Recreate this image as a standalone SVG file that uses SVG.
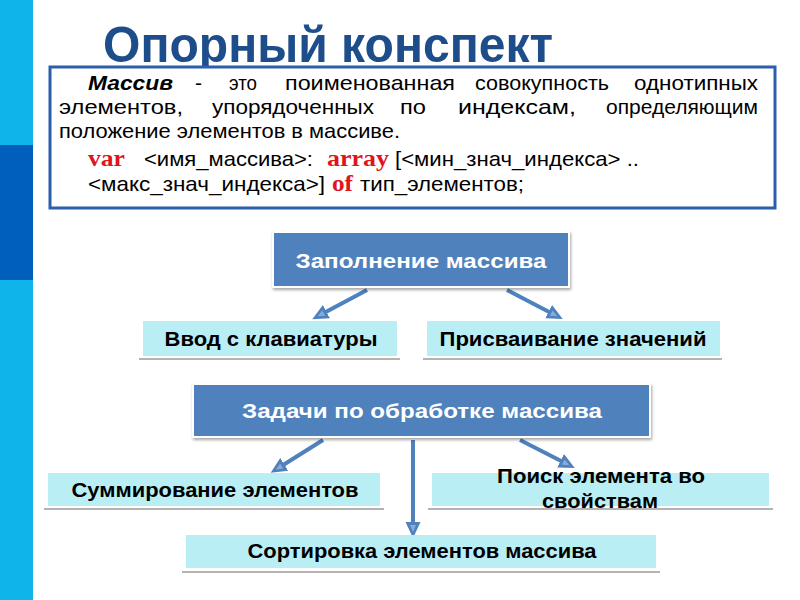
<svg xmlns="http://www.w3.org/2000/svg" width="800" height="600" viewBox="0 0 800 600">
<defs>
<marker id="ah" markerUnits="userSpaceOnUse" markerWidth="18" markerHeight="18" refX="5" refY="9" orient="auto">
<path d="M0,1.5 L16,9 L0,16.5 z" fill="#4F81BD"/>
<path d="M3,6 L10,9 L3,12 z" fill="#86ABD8"/>
</marker>
<filter id="sh" x="-5%" y="-10%" width="110%" height="130%">
<feDropShadow dx="1" dy="2" stdDeviation="1.5" flood-color="#000" flood-opacity="0.35"/>
</filter>
</defs>
<style>
.body{font-family:"Liberation Sans",Arial,sans-serif;font-size:21px;fill:#000}
.kw{font-family:"Liberation Serif","Times New Roman",serif;font-size:24px;font-weight:bold;fill:#E0141B}
.blue{fill:#4F81BD;stroke:#FFFFFF;stroke-width:2}
.wt{font-family:"Liberation Sans",Arial,sans-serif;font-size:20px;font-weight:bold;fill:#FFFFFF;text-anchor:middle}
.cy{fill:#B9EEF4}
.ul{stroke:#9A9A9A;stroke-width:1.5}
.bt{font-family:"Liberation Sans",Arial,sans-serif;font-size:20px;font-weight:bold;fill:#000;text-anchor:middle}
.conn{stroke:#4F81BD;stroke-width:4;fill:none;marker-end:url(#ah)}
</style>
<rect x="0" y="0" width="800" height="600" fill="#FFFFFF"/>
<g id="sidebar">
<rect x="0" y="0" width="33" height="145" fill="#0FB4EA"/>
<rect x="0" y="145" width="33" height="135" fill="#005FBD"/>
<rect x="0" y="280" width="33" height="320" fill="#0FB4EA"/>
</g>
<g id="title">
<text x="103" y="62" font-family="'Liberation Sans',Arial,sans-serif" font-size="50" font-weight="bold" fill="#1E4D8C" textLength="450" lengthAdjust="spacingAndGlyphs">Опорный конспект</text>
</g>
<g id="definition">
<rect x="50" y="67" width="725" height="141" fill="#FFFFFF" stroke="#2B5FAE" stroke-width="3"/>
<text class="body" x="88" y="90" font-weight="bold" font-style="italic" textLength="85" lengthAdjust="spacingAndGlyphs">Массив</text>
<text class="body" x="195" y="90">-</text>
<text class="body" x="229" y="90" textLength="28" lengthAdjust="spacingAndGlyphs">это</text>
<text class="body" x="285" y="90" textLength="170" lengthAdjust="spacingAndGlyphs">поименованная</text>
<text class="body" x="475" y="90" textLength="134" lengthAdjust="spacingAndGlyphs">совокупность</text>
<text class="body" x="634" y="90" textLength="124" lengthAdjust="spacingAndGlyphs">однотипных</text>
<text class="body" x="59" y="114" textLength="124" lengthAdjust="spacingAndGlyphs">элементов,</text>
<text class="body" x="212" y="114" textLength="162" lengthAdjust="spacingAndGlyphs">упорядоченных</text>
<text class="body" x="400" y="114" textLength="26" lengthAdjust="spacingAndGlyphs">по</text>
<text class="body" x="458" y="114" textLength="118" lengthAdjust="spacingAndGlyphs">индексам,</text>
<text class="body" x="606" y="114" textLength="152" lengthAdjust="spacingAndGlyphs">определяющим</text>
<text class="body" x="59" y="138" textLength="341" lengthAdjust="spacingAndGlyphs">положение элементов в массиве.</text>
<text class="kw" x="88" y="166" textLength="37" lengthAdjust="spacingAndGlyphs">var</text>
<text class="body" x="144" y="166" textLength="169" lengthAdjust="spacingAndGlyphs">&lt;имя_массива&gt;:</text>
<text class="kw" x="327" y="166" textLength="62" lengthAdjust="spacingAndGlyphs">array</text>
<text class="body" x="395" y="166" textLength="244" lengthAdjust="spacingAndGlyphs">[&lt;мин_знач_индекса&gt; ..</text>
<text class="body" x="88" y="191" textLength="237" lengthAdjust="spacingAndGlyphs">&lt;макс_знач_индекса&gt;]</text>
<text class="kw" x="332" y="191" textLength="21" lengthAdjust="spacingAndGlyphs">of</text>
<text class="body" x="360" y="191" textLength="164" lengthAdjust="spacingAndGlyphs">тип_элементов;</text>
</g>
<g id="connectors">
<line class="conn" x1="367" y1="290" x2="322" y2="314"/>
<line class="conn" x1="507" y1="290" x2="553" y2="314"/>
<line class="conn" x1="323" y1="440" x2="280" y2="467"/>
<line class="conn" x1="413" y1="440" x2="413" y2="527"/>
<line class="conn" x1="520" y1="440" x2="565" y2="463"/>
</g>
<g id="n-fill">
<rect class="blue" x="273" y="232" width="296" height="55" filter="url(#sh)"/>
<text class="wt" x="421" y="268" textLength="251" lengthAdjust="spacingAndGlyphs">Заполнение массива</text>
</g>
<g id="n-input">
<line class="ul" x1="139" y1="359" x2="400" y2="359"/>
<rect class="cy" x="143" y="321" width="254" height="35"/>
<text class="bt" x="271" y="346" textLength="213" lengthAdjust="spacingAndGlyphs">Ввод с клавиатуры</text>
</g>
<g id="n-assign">
<line class="ul" x1="423" y1="359" x2="722" y2="359"/>
<rect class="cy" x="427" y="321" width="293" height="35"/>
<text class="bt" x="573" y="346" textLength="267" lengthAdjust="spacingAndGlyphs">Присваивание значений</text>
</g>
<g id="n-tasks">
<rect class="blue" x="193" y="384" width="457" height="53" filter="url(#sh)"/>
<text class="wt" x="422" y="418" textLength="360" lengthAdjust="spacingAndGlyphs">Задачи по обработке массива</text>
</g>
<g id="n-sum">
<line class="ul" x1="44" y1="509" x2="384" y2="509"/>
<rect class="cy" x="48" y="473" width="332" height="33"/>
<text class="bt" x="215" y="497" textLength="287" lengthAdjust="spacingAndGlyphs">Суммирование элементов</text>
</g>
<g id="n-search">
<line class="ul" x1="428" y1="509" x2="773" y2="509"/>
<rect class="cy" x="432" y="473" width="337" height="33"/>
<text class="bt" x="601" y="483" textLength="208" lengthAdjust="spacingAndGlyphs">Поиск элемента во</text>
<text class="bt" x="600" y="508" textLength="116" lengthAdjust="spacingAndGlyphs">свойствам</text>
</g>
<g id="n-sort">
<line class="ul" x1="182" y1="572" x2="660" y2="572"/>
<rect class="cy" x="186" y="535" width="470" height="33"/>
<text class="bt" x="422" y="558" textLength="349" lengthAdjust="spacingAndGlyphs">Сортировка элементов массива</text>
</g>
</svg>
